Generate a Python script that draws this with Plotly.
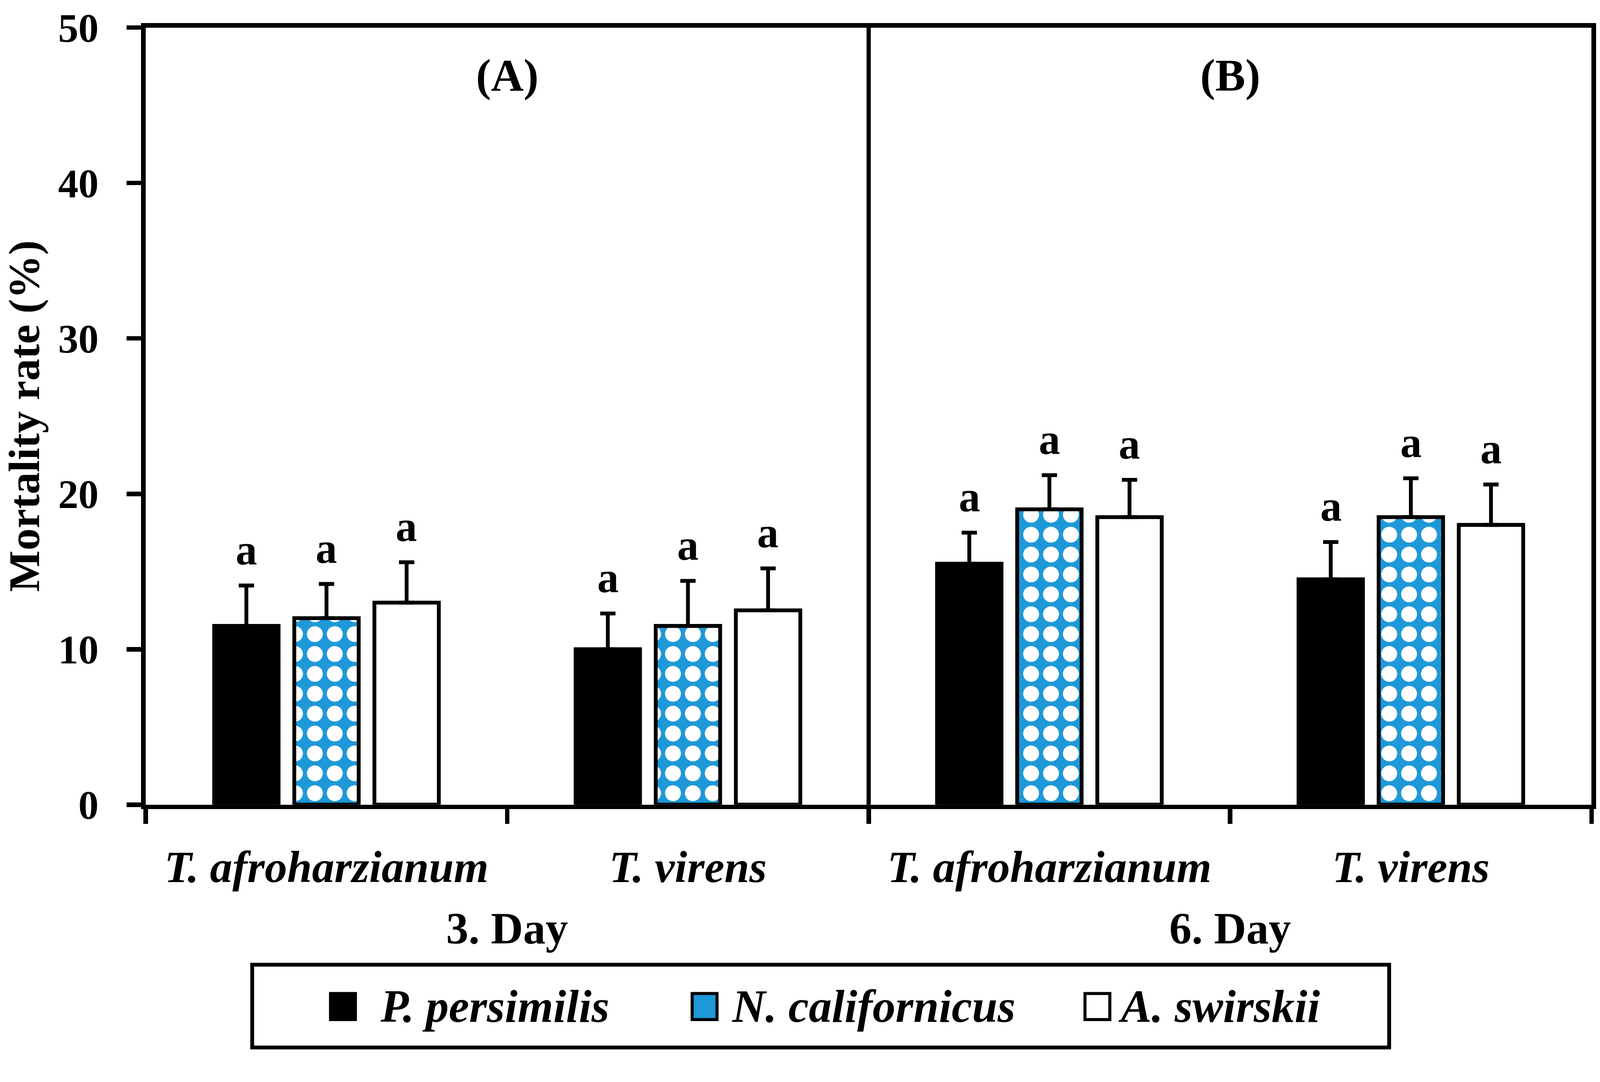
import plotly.graph_objects as go

# categories
days = ["3. Day", "6. Day"]
fungi = ["T. afroharzianum", "T. virens", "T. afroharzianum", "T. virens"]
species = ["P. persimilis", "N. californicus", "A. swirskii"]
panels = ["(A)", "(B)"]

# mortality rate (%) and error (upper bar only)
persimilis = [11.5, 10.0, 15.5, 14.5]
persimilis_err = [2.6, 2.3, 2.0, 2.4]
californicus = [12.0, 11.5, 19.0, 18.5]
californicus_err = [2.2, 2.9, 2.2, 2.5]
swirskii = [13.0, 12.5, 18.5, 18.0]
swirskii_err = [2.6, 2.7, 2.4, 2.6]

# significance letters
persimilis_letters = ["a", "a", "a", "a"]
californicus_letters = ["a", "a", "a", "a"]
swirskii_letters = ["a", "a", "a", "a"]

FONT = "Liberation Serif"
BLUE = "#1E98D8"
W, H = 4182, 2771

pos = list(range(len(fungi)))

series = [
    (species[0], persimilis, persimilis_err, persimilis_letters, "black", None),
    (species[1], californicus, californicus_err, californicus_letters, BLUE,
     dict(shape=".", bgcolor=BLUE, fgcolor="white", size=52, solidity=0.5, fillmode="replace")),
    (species[2], swirskii, swirskii_err, swirskii_letters, "white", None),
]

fig = go.Figure()
for name, vals, err, lets, col, pat in series:
    marker = dict(color=col, line=dict(color="black", width=10))
    if pat:
        marker["pattern"] = pat
    fig.add_trace(go.Bar(
        x=pos, y=vals, name=name, marker=marker, showlegend=False,
        error_y=dict(type="data", symmetric=False, array=err, arrayminus=[0] * len(err),
                     color="black", thickness=10, width=20),
    ))

# letters above error bars
slot = 209
for k, (name, vals, err, lets, col, pat) in enumerate(series):
    for i in range(len(vals)):
        fig.add_annotation(x=pos[i], y=vals[i] + err[i], xref="x", yref="y", text="<b>%s</b>" % lets[i],
                           showarrow=False, yanchor="bottom", xshift=(k - 1) * slot, yshift=30,
                           font=dict(family=FONT, size=112, color="black"))

# panel labels and day labels
for i, p in enumerate(panels):
    fig.add_annotation(x=2 * i + 0.5, y=46.9, xref="x", yref="y", text="<b>%s</b>" % p,
                       showarrow=False, font=dict(family=FONT, size=118, color="black"))
for i, d in enumerate(days):
    fig.add_annotation(x=2 * i + 0.5, y=-0.159, xref="x", yref="paper", text="<b>%s</b>" % d,
                       showarrow=False, yanchor="middle",
                       font=dict(family=FONT, size=117, color="black"))

# divider between the two days
fig.add_shape(type="line", xref="x", yref="paper", x0=1.5, x1=1.5, y0=0, y1=1,
              line=dict(color="black", width=11), layer="above")

# legend drawn as a box with swatches
fig.add_shape(type="rect", xref="paper", yref="paper", x0=0.0736, x1=0.860, y0=-0.3125, y1=-0.206,
              line=dict(color="black", width=10), fillcolor="rgba(0,0,0,0)")
swatch_x = [0.1278, 0.3779, 0.6496]
text_x = [0.1617, 0.4046, 0.6721]
sw, sh, yc = 0.0172, 0.0335, -0.2598
for k, (name, vals, err, lets, col, pat) in enumerate(series):
    fig.add_shape(type="rect", xref="paper", yref="paper", x0=swatch_x[k], x1=swatch_x[k] + sw,
                  y0=yc - sh / 2, y1=yc + sh / 2, line=dict(color="black", width=8), fillcolor=col)
    fig.add_annotation(x=text_x[k], y=yc, xref="paper", yref="paper",
                       text="<b><i>%s</i></b>" % name, showarrow=False, xanchor="left", yanchor="middle",
                       font=dict(family=FONT, size=120, color="black"))

fig.update_layout(
    width=W, height=H,
    template="none",
    paper_bgcolor="white", plot_bgcolor="white",
    margin=dict(l=381, r=22, t=72, b=667, autoexpand=False),
    barmode="group", bargap=0.335, bargroupgap=0.196,
    font=dict(family=FONT, color="black"),
    showlegend=False,
    xaxis=dict(
        range=[-0.5, 3.5], tickmode="array", tickvals=pos,
        ticktext=["<i>%s</i>" % f for f in fungi],
        showline=True, linecolor="black", linewidth=12, mirror=True,
        ticks="outside", ticklen=38, tickwidth=1, tickcolor="rgba(0,0,0,0)",
        minor=dict(tickmode="array", tickvals=[p - 0.5 for p in pos] + [pos[-1] + 0.5],
                   ticks="outside", ticklen=38, tickwidth=12, tickcolor="black", showgrid=False),
        showgrid=False, zeroline=False,
        tickfont=dict(family=FONT, size=117, color="black", weight="bold"),
        ticklabelstandoff=12,
    ),
    yaxis=dict(
        range=[0, 50], dtick=10, showline=True, linecolor="black", linewidth=12, mirror=True,
        ticks="outside", ticklen=38, tickwidth=12, tickcolor="black",
        showgrid=False, zeroline=False,
        tickfont=dict(family=FONT, size=106, color="black", weight="bold"),
        ticklabelstandoff=52,
        title=dict(text="<b>Mortality rate (%)</b>", standoff=44,
                   font=dict(family=FONT, size=115, color="black")),
    ),
)

# fit the fixed-size figure into the visible page area
fit = """
var gd = document.getElementById('{plot_id}');
document.body.style.margin = '0';
document.body.style.overflow = 'hidden';
var s = Math.min(1, window.innerWidth / %d, window.innerHeight / %d);
gd.style.transformOrigin = '0 0';
gd.style.transform = 'scale(' + s + ')';
""" % (W, H)

fig.write_html("out.html", config={"displayModeBar": False}, post_script=fit)
